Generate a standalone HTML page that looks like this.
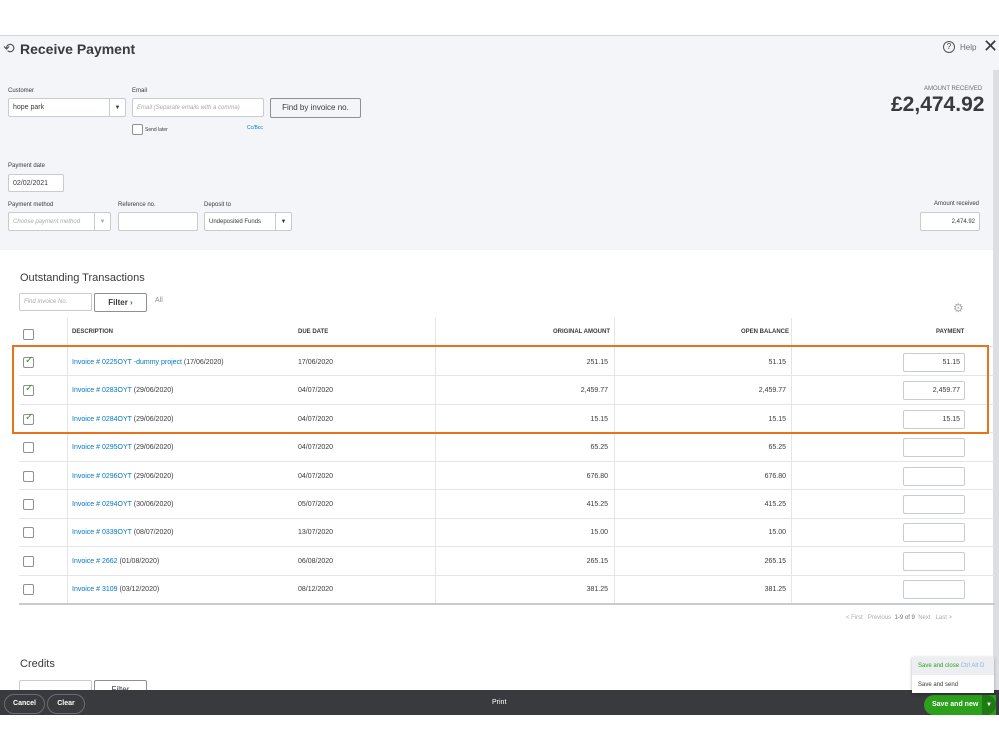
<!DOCTYPE html>
<html><head><meta charset="utf-8"><style>
*{box-sizing:border-box;margin:0;padding:0}
body{width:999px;height:749px;position:relative;overflow:hidden;background:#fff;font-family:"Liberation Sans",sans-serif;color:#393a3d}
.a{position:absolute}
.s{font-size:7px;color:#393a3d;white-space:nowrap}
.in{position:absolute;background:#fff;border:1px solid #c8cbd0;border-radius:2px;font-size:7px;padding-left:4px;display:flex;align-items:center;white-space:nowrap}
.dd{position:absolute;right:0;top:0;bottom:0;width:16px;border-left:1px solid #c8cbd0;font-size:6px;display:flex;align-items:center;justify-content:center}
.cb{position:absolute;width:11px;height:11px;border:1px solid #8d9096;border-radius:2px;background:#fff;left:23px}
.ln{color:#0077c5}
.row{position:absolute;left:19px;width:976px;height:1px;background:#e3e5e8}
.pb{position:absolute;left:903px;width:62px;height:19px;border:1px solid #c8cbd0;border-radius:2px;font-size:7px;text-align:right;padding:5px 4px 0 0}
</style></head><body>
<div class="a" style="left:0;top:35px;width:999px;height:215px;background:#f4f5f8;border-top:1px solid #d4d7dc"></div>
<div class="a" style="left:3px;top:40px;font-size:14px;color:#555">&#x27F2;</div>
<div class="a" style="left:20px;top:41px;font-size:14px;font-weight:bold;color:#393a3d">Receive Payment</div>
<div class="a" style="left:943px;top:41px;width:12px;height:12px;border:1px solid #555;border-radius:50%;font-size:8px;text-align:center;line-height:10px">?</div>
<div class="a s" style="left:960px;top:43px;font-size:8px;color:#6b6c72">Help</div>
<div class="a" style="left:983px;top:36px;font-size:18px;color:#393a3d">✕</div>
<div class="a s" style="left:8px;top:88px;font-size:6px">Customer</div>
<div class="in" style="left:8px;top:98px;width:118px;height:19px">hope park<div class="dd">▼</div></div>
<div class="a s" style="left:132px;top:88px;font-size:6px">Email</div>
<div class="in" style="left:132px;top:98px;width:132px;height:19px;color:#aaa;font-style:italic;font-size:6px">Email (Separate emails with a comma)</div>
<div class="a" style="left:270px;top:98px;width:91px;height:20px;border:1px solid #8d9096;border-radius:2px;background:#f4f5f8;font-size:8px;text-align:center;line-height:18px">Find by invoice no.</div>
<div class="cb" style="left:132px;top:124px"></div>
<div class="a s" style="left:145px;top:127px;font-size:5px">Send later</div>
<div class="a s" style="left:247px;top:125px;font-size:5px;color:#0077c5">Cc/Bcc</div>
<div class="a s" style="left:924px;top:86px;font-size:6px;color:#6b6c72">AMOUNT RECEIVED</div>
<div class="a" style="left:891px;top:93px;font-size:21px;font-weight:bold;color:#393a3d">£2,474.92</div>
<div class="a s" style="left:8px;top:163px;font-size:6px">Payment date</div>
<div class="in" style="left:8px;top:174px;width:56px;height:18px">02/02/2021</div>
<div class="a s" style="left:8px;top:202px;font-size:6px">Payment method</div>
<div class="in" style="left:8px;top:212px;width:103px;height:19px;color:#aaa;font-style:italic;font-size:6px">Choose payment method<div class="dd">▼</div></div>
<div class="a s" style="left:118px;top:202px;font-size:6px">Reference no.</div>
<div class="in" style="left:118px;top:212px;width:80px;height:19px"></div>
<div class="a s" style="left:204px;top:202px;font-size:6px">Deposit to</div>
<div class="in" style="left:204px;top:212px;width:88px;height:19px;font-size:6px">Undeposited Funds<div class="dd">▼</div></div>
<div class="a s" style="left:934px;top:201px;font-size:6px">Amount received</div>
<div class="in" style="left:920px;top:212px;width:60px;height:19px;justify-content:flex-end;padding-right:4px;font-size:6px">2,474.92</div>
<div class="a" style="left:993px;top:70px;width:6px;height:620px;background:#dcdee2"></div>
<div class="a" style="left:20px;top:272px;font-size:11px;color:#393a3d">Outstanding Transactions</div>
<div class="in" style="left:19px;top:293px;width:73px;height:18px;color:#aaa;font-style:italic;font-size:6px">Find Invoice No.</div>
<div class="a" style="left:94px;top:293px;width:53px;height:19px;border:1px solid #8d9096;border-radius:2px;font-size:8px;font-weight:bold;text-align:center;line-height:17px">Filter <span style="color:#0077c5">›</span></div>
<div class="a s" style="left:155px;top:297px;color:#8d9096">All</div>
<div class="a" style="left:953px;top:301px;font-size:12px;color:#aaa">⚙</div>
<div class="a" style="left:67px;top:318px;width:1px;height:286px;background:#e3e5e8"></div>
<div class="a" style="left:435px;top:318px;width:1px;height:286px;background:#e3e5e8"></div>
<div class="a" style="left:614px;top:318px;width:1px;height:286px;background:#e3e5e8"></div>
<div class="a" style="left:791px;top:318px;width:1px;height:286px;background:#e3e5e8"></div>
<div class="cb" style="top:329px"></div>
<div class="a s" style="left:72px;top:329px;font-size:6px;font-weight:bold">DESCRIPTION</div>
<div class="a s" style="left:298px;top:329px;font-size:6px;font-weight:bold">DUE DATE</div>
<div class="a s" style="left:553px;top:329px;font-size:6px;font-weight:bold">ORIGINAL AMOUNT</div>
<div class="a s" style="left:741px;top:329px;font-size:6px;font-weight:bold">OPEN BALANCE</div>
<div class="a s" style="left:936px;top:329px;font-size:6px;font-weight:bold">PAYMENT</div>
<div class="row" style="top:346px"></div>
<div class="row" style="top:375px"></div><div class="row" style="top:404px"></div><div class="row" style="top:432px"></div><div class="row" style="top:461px"></div><div class="row" style="top:489px"></div><div class="row" style="top:518px"></div><div class="row" style="top:546px"></div><div class="row" style="top:575px"></div>
<div class="a" style="left:19px;top:603px;width:976px;height:2px;background:#c8cbd0"></div>
<div id="rows"></div>
<script>
var d=[["Invoice # 0225OYT -dummy project","(17/06/2020)","17/06/2020","251.15","51.15","51.15",1],
["Invoice # 0283OYT","(29/06/2020)","04/07/2020","2,459.77","2,459.77","2,459.77",1],
["Invoice # 0284OYT","(29/06/2020)","04/07/2020","15.15","15.15","15.15",1],
["Invoice # 0295OYT","(29/06/2020)","04/07/2020","65.25","65.25","",0],
["Invoice # 0296OYT","(29/06/2020)","04/07/2020","676.80","676.80","",0],
["Invoice # 0294OYT","(30/06/2020)","05/07/2020","415.25","415.25","",0],
["Invoice # 0339OYT","(08/07/2020)","13/07/2020","15.00","15.00","",0],
["Invoice # 2662","(01/08/2020)","06/08/2020","265.15","265.15","",0],
["Invoice # 3109","(03/12/2020)","08/12/2020","381.25","381.25","",0]];
var h="";
d.forEach(function(r,i){var y=362+i*28.4;
h+='<div class="cb" style="top:'+(y-5)+'px">'+(r[6]?'<span style="position:absolute;left:1px;top:-3px;font-size:10px;color:#2ca01c">✓</span>':'')+'</div>';
h+='<div class="a s" style="left:72px;top:'+(y-3)+'px"><span class="ln">'+r[0]+'</span> '+r[1]+'</div>';
h+='<div class="a s" style="left:298px;top:'+(y-3)+'px">'+r[2]+'</div>';
h+='<div class="a s" style="right:391px;top:'+(y-3)+'px">'+r[3]+'</div>';
h+='<div class="a s" style="right:213px;top:'+(y-3)+'px">'+r[4]+'</div>';
h+='<div class="pb" style="top:'+(y-9)+'px">'+r[5]+'</div>';});
document.getElementById('rows').innerHTML=h;
</script>
<div class="a" style="left:12px;top:345px;width:977px;height:89px;border:2px solid #e8731c"></div>
<div class="a s" style="left:846px;top:615px;font-size:6px;color:#aaa">&lt; First &nbsp; Previous &nbsp;<span style="color:#6b6c72">1-9 of 9</span>&nbsp; Next &nbsp; Last &gt;</div>
<div class="a" style="left:20px;top:658px;font-size:11px">Credits</div>
<div class="in" style="left:19px;top:680px;width:73px;height:18px"></div>
<div class="a" style="left:94px;top:680px;width:53px;height:19px;border:1px solid #8d9096;border-radius:2px;font-size:8px;text-align:center;line-height:17px">Filter</div>
<div class="a" style="left:0;top:690px;width:999px;height:25px;background:#393a3d"></div>
<div class="a" style="left:4px;top:694px;width:41px;height:20px;border:1px solid #6b6c72;border-radius:10px;color:#fff;font-size:7px;font-weight:bold;text-align:center;line-height:18px">Cancel</div>
<div class="a" style="left:47px;top:694px;width:38px;height:20px;border:1px solid #6b6c72;border-radius:10px;color:#fff;font-size:7px;font-weight:bold;text-align:center;line-height:18px">Clear</div>
<div class="a s" style="left:492px;top:699px;color:#fff">Print</div>
<div class="a" style="left:924px;top:695px;width:72px;height:20px;background:#2ca01c;border-radius:10px 0 0 10px;color:#fff;font-size:7px;font-weight:bold;line-height:20px;padding-left:8px">Save and new</div>
<div class="a" style="left:982px;top:695px;width:14px;height:20px;background:#1f7a14;border-radius:0 10px 10px 0;color:#fff;font-size:6px;text-align:center;line-height:20px">▼</div>
<div class="a" style="left:912px;top:657px;width:82px;height:36px;background:#fff;box-shadow:0 1px 3px rgba(0,0,0,.3)"></div>
<div class="a s" style="left:912px;top:657px;width:82px;height:18px;background:#eceef1;font-size:6px;color:#2ca01c;padding:6px 0 0 6px">Save and close <span style="color:#8ab4e0">Ctrl Alt D</span></div>
<div class="a s" style="left:918px;top:682px;font-size:6px">Save and send</div>
</body></html>
